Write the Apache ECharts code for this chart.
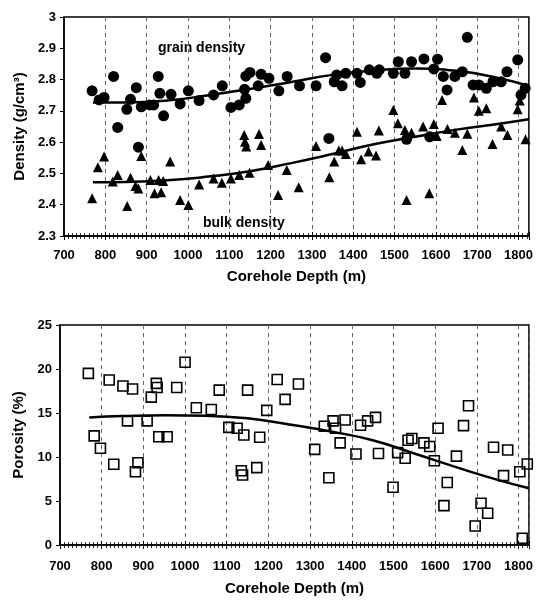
<!DOCTYPE html>
<html>
<head>
<meta charset="utf-8">
<script src="https://cdn.jsdelivr.net/npm/echarts@6/dist/echarts.min.js"></script>
<style>
  html, body { margin: 0; padding: 0; background: #fff; }
  #main { width: 536px; height: 605px; }
</style>
</head>
<body>
<div id="main"></div>
<script>
// grain density (circles)
var grainDepth = [768, 785, 797, 820, 830, 852, 861, 875, 880, 887, 907, 917, 928, 932, 941, 959, 981, 1001, 1027, 1062,
  1083, 1104, 1124, 1137, 1140, 1140, 1150, 1170, 1177, 1196, 1220, 1240, 1270, 1310, 1333, 1341, 1354, 1360, 1373, 1382,
  1409, 1417, 1439, 1457, 1463, 1497, 1509, 1525, 1529, 1541, 1571, 1585, 1595, 1604, 1618, 1627, 1646, 1664, 1676, 1690,
  1704, 1722, 1738, 1758, 1772, 1798, 1806, 1816]
var grainDens = [2.764, 2.735, 2.743, 2.81, 2.647, 2.705, 2.737, 2.774, 2.584, 2.713, 2.719, 2.719, 2.81, 2.756, 2.684, 2.753, 2.722, 2.764, 2.733, 2.751,
  2.78, 2.711, 2.719, 2.769, 2.74, 2.811, 2.823, 2.78, 2.817, 2.804, 2.764, 2.81, 2.78, 2.78, 2.87, 2.612, 2.793, 2.815, 2.78, 2.82,
  2.82, 2.791, 2.831, 2.82, 2.831, 2.82, 2.857, 2.82, 2.609, 2.857, 2.866, 2.617, 2.834, 2.865, 2.81, 2.767, 2.81, 2.825, 2.935, 2.783,
  2.783, 2.772, 2.793, 2.793, 2.825, 2.863, 2.751, 2.772]

// bulk density (triangles)
var bulkDepth = [768, 782, 797, 818, 830, 853, 861, 873, 880, 887, 909, 919, 929, 935, 940, 957, 981, 1001, 1027, 1062,
  1082, 1104, 1124, 1136, 1138, 1141, 1149, 1172, 1177, 1194, 1218, 1239, 1268, 1310, 1342, 1354, 1365, 1373, 1382, 1409,
  1419, 1437, 1455, 1462, 1497, 1508, 1525, 1529, 1541, 1569, 1584, 1595, 1602, 1615, 1628, 1646, 1664, 1676, 1692, 1704,
  1722, 1737, 1758, 1773, 1798, 1803, 1817]
var bulkDens = [2.421, 2.52, 2.554, 2.474, 2.495, 2.396, 2.486, 2.46, 2.452, 2.556, 2.479, 2.437, 2.479, 2.44, 2.476, 2.538, 2.415, 2.399, 2.465, 2.484,
  2.47, 2.484, 2.495, 2.623, 2.601, 2.586, 2.502, 2.626, 2.591, 2.527, 2.431, 2.511, 2.456, 2.588, 2.488, 2.538, 2.573, 2.573, 2.562, 2.633,
  2.545, 2.57, 2.557, 2.637, 2.703, 2.66, 2.639, 2.415, 2.63, 2.65, 2.437, 2.658, 2.62, 2.735, 2.642, 2.63, 2.575, 2.627, 2.743, 2.7,
  2.708, 2.594, 2.65, 2.623, 2.705, 2.733, 2.609]

// porosity (squares)
var porDepth = [768, 782, 797, 818, 829, 851, 862, 874, 881, 887, 909, 919, 931, 933, 937, 957, 980, 1000, 1027, 1063,
  1082, 1105, 1125, 1135, 1138, 1141, 1150, 1172, 1179, 1196, 1221, 1240, 1272, 1311, 1334, 1345, 1355, 1361, 1372, 1384,
  1410, 1421, 1438, 1457, 1464, 1499, 1510, 1528, 1535, 1544, 1573, 1587, 1598, 1607, 1621, 1629, 1651, 1668, 1680, 1696,
  1710, 1726, 1740, 1764, 1774, 1803, 1809, 1821]
var porVal = [19.5, 12.4, 11.0, 18.75, 9.17, 18.07, 14.1, 17.73, 8.33, 9.35, 14.1, 16.8, 18.37, 17.9, 12.3, 12.3, 17.9, 20.76, 15.6, 15.4,
  17.6, 13.37, 13.26, 8.44, 7.95, 12.5, 17.6, 8.79, 12.24, 15.3, 18.8, 16.55, 18.3, 10.87, 13.5, 7.65, 14.1, 13.26, 11.6, 14.2,
  10.34, 13.6, 14.1, 14.5, 10.4, 6.56, 10.5, 9.85, 11.9, 12.1, 11.6, 11.2, 9.58, 13.26, 4.47, 7.1, 10.1, 13.56, 15.83, 2.16,
  4.74, 3.6, 11.1, 7.88, 10.8, 8.33, 0.76, 9.2]

// trend lines
var trendDepth = [770, 850, 950, 1050, 1150, 1250, 1350, 1450, 1550, 1650, 1750, 1825]
var grainTrend = [2.727, 2.727, 2.733, 2.75, 2.77, 2.792, 2.815, 2.829, 2.835, 2.828, 2.805, 2.78]
var bulkTrend = [2.472, 2.473, 2.478, 2.49, 2.507, 2.533, 2.562, 2.593, 2.617, 2.64, 2.658, 2.673]
var porTrend = [14.5, 14.65, 14.75, 14.7, 14.4, 13.7, 12.9, 11.9, 10.4, 8.85, 7.4, 6.45]

var densTicks = [2.3, 2.4, 2.5, 2.6, 2.7, 2.8, 2.9, 3]
var porTicks = [0, 5, 10, 15, 20, 25]

function pairs(xs, ys) {
  return xs.map(function (x, i) { return [x, ys[i]] })
}

var font = 'Liberation Sans, Arial, sans-serif'
var black = '#000'

function depthAxis(grid, withLabel, gap, margin) {
  return {
    type: 'value',
    gridIndex: grid,
    position: 'bottom',
    min: 700,
    max: 1825,
    interval: 100,
    name: withLabel ? 'Corehole Depth (m)' : '',
    nameLocation: 'middle',
    nameGap: gap,
    nameTextStyle: { color: black, fontFamily: font, fontWeight: 'bold', fontSize: 15 },
    axisLine: { show: withLabel, lineStyle: { color: black, width: 1.5 } },
    axisTick: { show: true, inside: !withLabel, length: 4, lineStyle: { color: black, width: 1 } },
    minorTick: { show: true, splitNumber: 10, length: 3, lineStyle: { color: black, width: 0.8 } },
    axisLabel: {
      show: withLabel,
      margin: margin,
      color: black,
      fontFamily: font,
      fontWeight: 'bold',
      fontSize: 13,
      formatter: function (v) { return v % 100 === 0 ? String(v) : '' }
    },
    splitLine: {
      show: withLabel,
      lineStyle: { color: '#666', width: 1, type: [4, 4] }
    }
  }
}

var option = {
  backgroundColor: '#fff',
  animation: false,
  grid: [
    { left: 64, right: 5, top: 17, height: 219, show: true, borderColor: black, borderWidth: 1.5 },
    { left: 60, right: 2, top: 325, height: 220, show: true, borderColor: black, borderWidth: 1.5 }
  ],
  xAxis: [
    depthAxis(0, true, 33, 13),
    depthAxis(0, false, 0, 0),
    depthAxis(1, true, 36, 15),
    depthAxis(1, false, 0, 0)
  ],
  yAxis: [
    {
      type: 'value',
      gridIndex: 0,
      min: densTicks[0],
      max: densTicks[densTicks.length - 1],
      interval: 0.1,
      name: 'Density (g/cm³)',
      nameLocation: 'middle',
      nameGap: 36,
      nameTextStyle: { color: black, fontFamily: font, fontWeight: 'bold', fontSize: 15 },
      axisLine: { show: true, lineStyle: { color: black, width: 1.5 } },
      axisTick: { show: true, length: 4, lineStyle: { color: black } },
      axisLabel: {
        color: black, fontFamily: font, fontWeight: 'bold', fontSize: 13, margin: 8,
        formatter: function (v) { return v === 3 ? '3' : v.toFixed(1) }
      },
      splitLine: { show: false }
    },
    {
      type: 'value',
      gridIndex: 1,
      min: porTicks[0],
      max: porTicks[porTicks.length - 1],
      interval: 5,
      name: 'Porosity (%)',
      nameLocation: 'middle',
      nameGap: 32,
      nameTextStyle: { color: black, fontFamily: font, fontWeight: 'bold', fontSize: 15 },
      axisLine: { show: true, lineStyle: { color: black, width: 1.5 } },
      axisTick: { show: true, length: 4, lineStyle: { color: black } },
      axisLabel: { color: black, fontFamily: font, fontWeight: 'bold', fontSize: 13, margin: 8 },
      splitLine: { show: false }
    }
  ],
  graphic: [
    {
      type: 'text', left: 158, top: 41,
      style: { text: 'grain density', fill: black, font: 'bold 14px Liberation Sans, Arial, sans-serif' }
    },
    {
      type: 'text', left: 203, top: 216,
      style: { text: 'bulk density', fill: black, font: 'bold 14px Liberation Sans, Arial, sans-serif' }
    }
  ],
  series: [
    {
      name: 'grain trend', type: 'line', xAxisIndex: 0, yAxisIndex: 0,
      data: pairs(trendDepth, grainTrend), smooth: true, showSymbol: false,
      lineStyle: { color: black, width: 2.5 }
    },
    {
      name: 'bulk trend', type: 'line', xAxisIndex: 0, yAxisIndex: 0,
      data: pairs(trendDepth, bulkTrend), smooth: true, showSymbol: false,
      lineStyle: { color: black, width: 2.5 }
    },
    {
      name: 'grain density', type: 'scatter', xAxisIndex: 0, yAxisIndex: 0,
      data: pairs(grainDepth, grainDens), symbol: 'circle', symbolSize: 11,
      itemStyle: { color: black, opacity: 1 }
    },
    {
      name: 'bulk density', type: 'scatter', xAxisIndex: 0, yAxisIndex: 0,
      data: pairs(bulkDepth, bulkDens), symbol: 'triangle', symbolSize: 10,
      itemStyle: { color: black, opacity: 1 }
    },
    {
      name: 'porosity trend', type: 'line', xAxisIndex: 2, yAxisIndex: 1,
      data: pairs(trendDepth, porTrend), smooth: true, showSymbol: false,
      lineStyle: { color: black, width: 2.5 }
    },
    {
      name: 'porosity', type: 'scatter', xAxisIndex: 2, yAxisIndex: 1,
      data: pairs(porDepth, porVal), symbol: 'rect', symbolSize: 10,
      itemStyle: { color: 'rgba(255,255,255,0)', borderColor: black, borderWidth: 1.6, opacity: 1 }
    }
  ]
}

var chart = echarts.init(document.getElementById('main'), null, { renderer: 'canvas' })
chart.setOption(option)
</script>
</body>
</html>
